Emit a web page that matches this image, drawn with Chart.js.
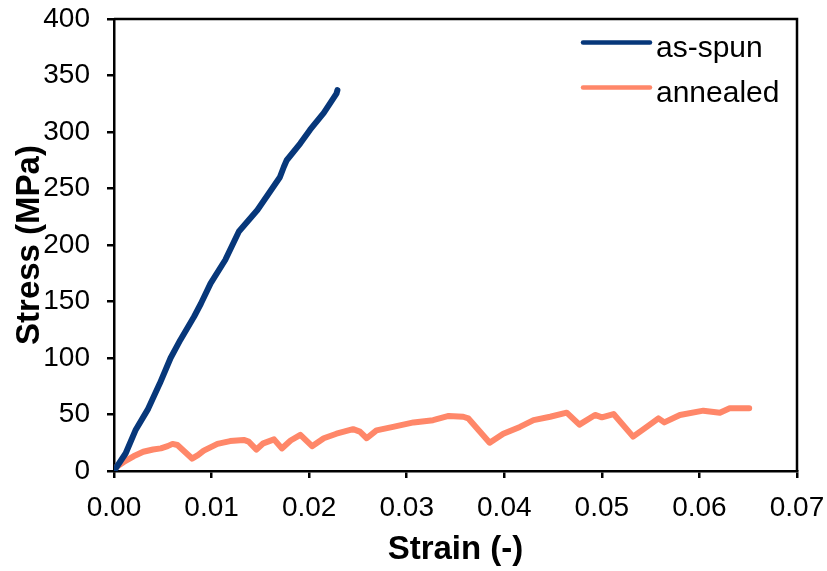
<!DOCTYPE html>
<html>
<head>
<meta charset="utf-8">
<script src="https://cdn.jsdelivr.net/npm/chart.js@4/dist/chart.umd.min.js"></script>
<style>
html,body{margin:0;padding:0;background:#fff;}
#wrap{width:827px;height:571px;}
</style>
</head>
<body>
<div id="wrap"><canvas id="c" width="827" height="571"></canvas></div>
<script>
const seriesNames = ["as-spun", "annealed"];
const seriesColors = ["#07377A", "#FF8769"];

const asSpunStrain = [0, 0.0012, 0.0022, 0.0035, 0.0047, 0.0058, 0.0068, 0.0082, 0.0089, 0.0099, 0.0114, 0.0128, 0.0147, 0.0170, 0.0174, 0.0177, 0.0191, 0.0201, 0.0215, 0.0228, 0.0229];
const asSpunStress = [0, 15.7, 36, 55, 77.6, 100, 116, 136.5, 148, 166, 186.7, 212, 231, 260, 269, 275, 290, 302, 317, 334, 337];

const annealedStrain = [0, 0.0005, 0.001, 0.002, 0.003, 0.004, 0.0048, 0.0055, 0.006, 0.0065, 0.008, 0.0086, 0.0092, 0.0106, 0.0119, 0.0133, 0.0138, 0.0146, 0.0153, 0.0164, 0.0172, 0.0181, 0.0191, 0.0203, 0.0215, 0.0228, 0.0245, 0.0252, 0.0259, 0.0269, 0.0286, 0.0307, 0.0327, 0.0343, 0.0358, 0.0363, 0.0385, 0.0399, 0.0416, 0.0430, 0.0447, 0.0464, 0.0477, 0.0493, 0.0500, 0.0512, 0.0532, 0.0546, 0.0558, 0.0564, 0.0580, 0.0604, 0.0621, 0.0631, 0.0651];
const annealedStress = [2, 5, 8, 13, 17, 19, 20, 22, 24, 23, 11, 14, 18, 24, 26.5, 27.5, 26, 19, 24.5, 28, 20, 27, 32, 22, 29, 33, 37, 34.8, 29, 36, 39, 43, 45, 48.7, 48, 46.6, 25, 33, 39, 45, 48, 51.6, 41, 49.6, 47.5, 50.4, 30.4, 39, 46.6, 43, 49.6, 53.4, 51.6, 55.5, 55.5];

const xMin = 0, xMax = 0.07, xStep = 0.01;
const yMin = 0, yMax = 400, yStep = 50;
const xTitle = "Strain (-)";
const yTitle = "Stress (MPa)";

function pts(xs, ys){ return xs.map((x,i)=>({x:x, y:ys[i]})); }

const FONT = "'Liberation Sans', Arial, sans-serif";

function noPad(s){ s.paddingTop = 0; s.paddingBottom = 0; s.paddingLeft = 0; s.paddingRight = 0; }

const boxPlugin = {
  id: 'boxPlugin',
  afterDraw(chart){
    const {ctx, chartArea:a} = chart;
    ctx.save();
    ctx.strokeStyle = '#000';
    ctx.lineWidth = 2.5;
    ctx.beginPath();
    ctx.moveTo(a.left, a.top);
    ctx.lineTo(a.right, a.top);
    ctx.lineTo(a.right, a.bottom);
    ctx.stroke();
    // legend
    const ds = chart.data.datasets;
    ds.forEach((d,i)=>{
      const base = 56.5 + i*45;
      ctx.strokeStyle = d.borderColor;
      ctx.lineWidth = 4.5;
      ctx.lineCap = 'round';
      ctx.beginPath();
      ctx.moveTo(583, base - 14);
      ctx.lineTo(650, base - 14);
      ctx.stroke();
      ctx.fillStyle = '#000';
      ctx.font = "30px " + FONT;
      ctx.textAlign = 'left';
      ctx.textBaseline = 'alphabetic';
      ctx.fillText(d.label, 656, base);
    });
    ctx.restore();
  }
};

new Chart(document.getElementById('c'), {
  type: 'scatter',
  data: {
    datasets: [
      {label: seriesNames[0], data: pts(asSpunStrain, asSpunStress), showLine: true, borderColor: seriesColors[0], backgroundColor: seriesColors[0], borderWidth: 6, pointRadius: 0, tension: 0, borderCapStyle: 'round', borderJoinStyle: 'round'},
      {label: seriesNames[1], data: pts(annealedStrain, annealedStress), showLine: true, borderColor: seriesColors[1], backgroundColor: seriesColors[1], borderWidth: 6, pointRadius: 0, tension: 0, borderCapStyle: 'round', borderJoinStyle: 'round'}
    ]
  },
  options: {
    responsive: false,
    devicePixelRatio: 1,
    animation: false,
    layout: {padding: {top: 19, right: 30, left: 0, bottom: 0}},
    plugins: {legend: {display: false}, tooltip: {enabled: false}},
    scales: {
      x: {
        type: 'linear', min: xMin, max: xMax,
        afterFit(s){ s.height = 100; noPad(s); },
        ticks: {stepSize: xStep, color: '#000', padding: 13, font: {family: FONT, size: 28},
          callback: v => Number(v).toFixed(2)},
        grid: {display: true, drawOnChartArea: false, drawTicks: true, tickLength: 7, color: '#000', lineWidth: 2.5},
        border: {display: true, color: '#000', width: 2.5},
        title: {display: true, text: xTitle, color: '#000', font: {family: FONT, size: 33, weight: 'bold', lineHeight: 1}, padding: {top: 0, bottom: 5}}
      },
      y: {
        type: 'linear', min: yMin, max: yMax,
        afterFit(s){ s.width = 114; noPad(s); },
        ticks: {stepSize: yStep, color: '#000', padding: 17, font: {family: FONT, size: 28}},
        grid: {display: true, drawOnChartArea: false, drawTicks: true, tickLength: 7, color: '#000', lineWidth: 2.5},
        border: {display: true, color: '#000', width: 2.5},
        title: {display: true, text: yTitle, color: '#000', font: {family: FONT, size: 33, weight: 'bold', lineHeight: 1}, padding: {top: 13, bottom: 0}}
      }
    }
  },
  plugins: [boxPlugin]
});
</script>
</body>
</html>
